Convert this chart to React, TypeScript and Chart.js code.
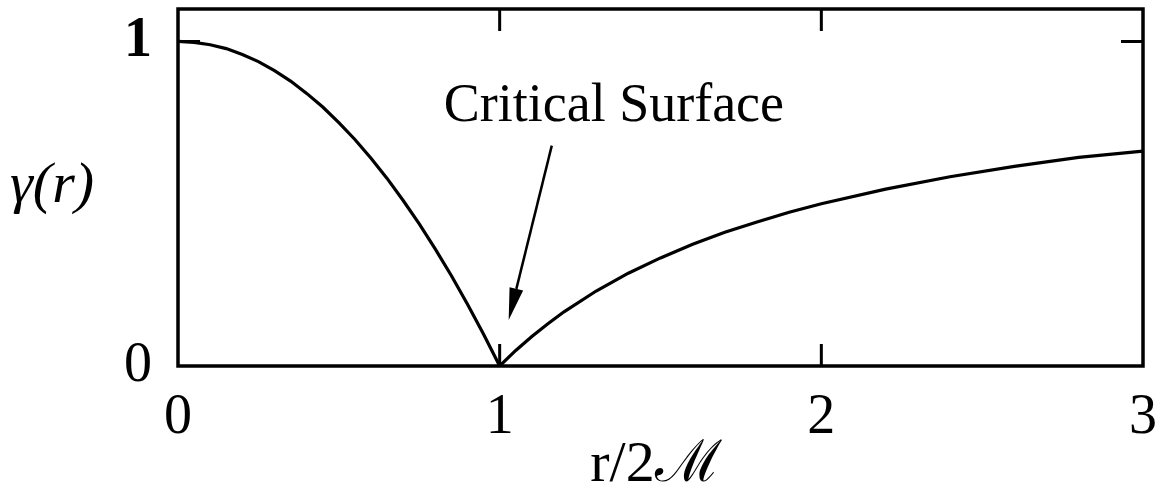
import React, { useEffect, useRef } from "react";
import { Chart, registerables } from "chart.js";

Chart.register(...registerables);

// ---- data ----
const rValues = [
  0, 0.05, 0.1, 0.15, 0.2, 0.25, 0.3, 0.35, 0.4, 0.45, 0.5, 0.55, 0.6, 0.65, 0.7, 0.75, 0.8, 0.85, 0.9, 0.95, 1.0,
  1.05, 1.1, 1.15, 1.2, 1.3, 1.4, 1.5, 1.6, 1.7, 1.8, 1.9, 2.0, 2.2, 2.4, 2.6, 2.8, 3.0,
];
const gammaValues = [
  1.0, 0.997, 0.99, 0.978, 0.96, 0.938, 0.91, 0.878, 0.84, 0.798, 0.75, 0.698, 0.64, 0.578, 0.51, 0.438, 0.36, 0.278, 0.19, 0.098, 0.0,
  0.048, 0.091, 0.13, 0.167, 0.231, 0.286, 0.333, 0.375, 0.412, 0.444, 0.474, 0.5, 0.545, 0.583, 0.615, 0.643, 0.662,
];
const xTickValues = [0, 1, 2, 3];
const yTickValues = [0, 1];
const xInnerTicks = [1, 2];
const yInnerTicks = [1];
const xAxisTitle = "r/2\u2133";
const yAxisTitle = "\u03b3(r)";
const annotationText = "Critical Surface";
const annotationTextAt = [1.355, 0.755];
const arrowTail = [1.162, 0.679];
const arrowTip = [1.028, 0.142];

const SERIF = "'Liberation Serif', 'DejaVu Serif', serif";

const decorPlugin = {
  id: "decor",
  afterDraw(chart: any) {
    const { ctx, chartArea } = chart;
    const xs = chart.scales.x;
    const ys = chart.scales.y;
    const { left, right, top, bottom } = chartArea;
    ctx.save();
    ctx.strokeStyle = "#000";
    ctx.fillStyle = "#000";
    ctx.lineWidth = 3.5;
    ctx.lineJoin = "miter";
    ctx.strokeRect(left, top, right - left, bottom - top);
    const tl = 22;
    ctx.lineWidth = 3;
    ctx.beginPath();
    for (const v of xInnerTicks) {
      const px = xs.getPixelForValue(v);
      ctx.moveTo(px, bottom);
      ctx.lineTo(px, bottom - tl);
      ctx.moveTo(px, top);
      ctx.lineTo(px, top + tl);
    }
    for (const v of yInnerTicks) {
      const py = ys.getPixelForValue(v);
      ctx.moveTo(left, py);
      ctx.lineTo(left + tl, py);
      ctx.moveTo(right, py);
      ctx.lineTo(right - tl, py);
    }
    ctx.stroke();

    // arrow
    const x0 = xs.getPixelForValue(arrowTail[0]);
    const y0 = ys.getPixelForValue(arrowTail[1]);
    const x1 = xs.getPixelForValue(arrowTip[0]);
    const y1 = ys.getPixelForValue(arrowTip[1]);
    const ang = Math.atan2(y1 - y0, x1 - x0);
    const headLen = 32;
    const headHalf = 7;
    const bx = x1 - headLen * Math.cos(ang);
    const by = y1 - headLen * Math.sin(ang);
    ctx.lineWidth = 2.5;
    ctx.beginPath();
    ctx.moveTo(x0, y0);
    ctx.lineTo(bx, by);
    ctx.stroke();
    ctx.beginPath();
    ctx.moveTo(x1, y1);
    ctx.lineTo(bx + headHalf * Math.sin(ang), by - headHalf * Math.cos(ang));
    ctx.lineTo(bx - headHalf * Math.sin(ang), by + headHalf * Math.cos(ang));
    ctx.closePath();
    ctx.fill();

    // annotation text
    ctx.font = `54px ${SERIF}`;
    ctx.textAlign = "center";
    ctx.textBaseline = "alphabetic";
    ctx.fillText(
      annotationText,
      xs.getPixelForValue(annotationTextAt[0]),
      ys.getPixelForValue(annotationTextAt[1])
    );

    // axis titles
    ctx.font = `italic 58px ${SERIF}`;
    ctx.textAlign = "left";
    ctx.fillText(yAxisTitle, 10, 202);
    ctx.font = `58px ${SERIF}`;
    ctx.textAlign = "center";
    ctx.fillText(xAxisTitle, 656, 481);
    ctx.restore();
  },
};

export default function App() {
  const canvasRef = useRef<HTMLCanvasElement | null>(null);

  useEffect(() => {
    document.body.style.margin = "0";
    const canvas = canvasRef.current;
    if (!canvas) return;
    const data = rValues.map((r, i) => ({ x: r, y: gammaValues[i] }));
    const chart = new Chart(canvas, {
      type: "line",
      data: {
        datasets: [
          {
            data,
            borderColor: "#000",
            borderWidth: 3.2,
            pointRadius: 0,
            tension: 0,
            fill: false,
          },
        ],
      },
      options: {
        animation: false,
        responsive: false,
        maintainAspectRatio: false,
        layout: { padding: { top: 9, right: 26, left: 0, bottom: 0 } },
        plugins: { legend: { display: false }, tooltip: { enabled: false }, title: { display: false } },
        scales: {
          x: {
            type: "linear",
            min: 0,
            max: 3,
            grid: { display: false, drawTicks: false },
            border: { display: false },
            afterBuildTicks: (scale: any) => {
              scale.ticks = xTickValues.map((v) => ({ value: v }));
            },
            afterFit: (scale: any) => {
              scale.height = 130;
              scale.paddingLeft = 0;
              scale.paddingRight = 0;
            },
            ticks: {
              color: "#000",
              font: { family: SERIF, size: 56 },
              padding: 19,
              maxRotation: 0,
              autoSkip: false,
              callback: (v: any) => String(v),
            },
          },
          y: {
            type: "linear",
            min: 0,
            max: 1.1,
            grid: { display: false, drawTicks: false },
            border: { display: false },
            afterBuildTicks: (scale: any) => {
              scale.ticks = yTickValues.map((v) => ({ value: v }));
            },
            afterFit: (scale: any) => {
              scale.width = 178;
              scale.paddingTop = 0;
              scale.paddingBottom = 0;
            },
            ticks: {
              color: "#000",
              font: (c: any) => ({
                family: SERIF,
                size: 56,
                weight: c.tick && c.tick.value === 1 ? "bold" : "normal",
              }),
              padding: 26,
              autoSkip: false,
              callback: (v: any) => String(v),
            },
          },
        },
      },
      plugins: [decorPlugin],
    });
    return () => chart.destroy();
  }, []);

  return <canvas ref={canvasRef} width={1169} height={496} style={{ display: "block" }} />;
}
